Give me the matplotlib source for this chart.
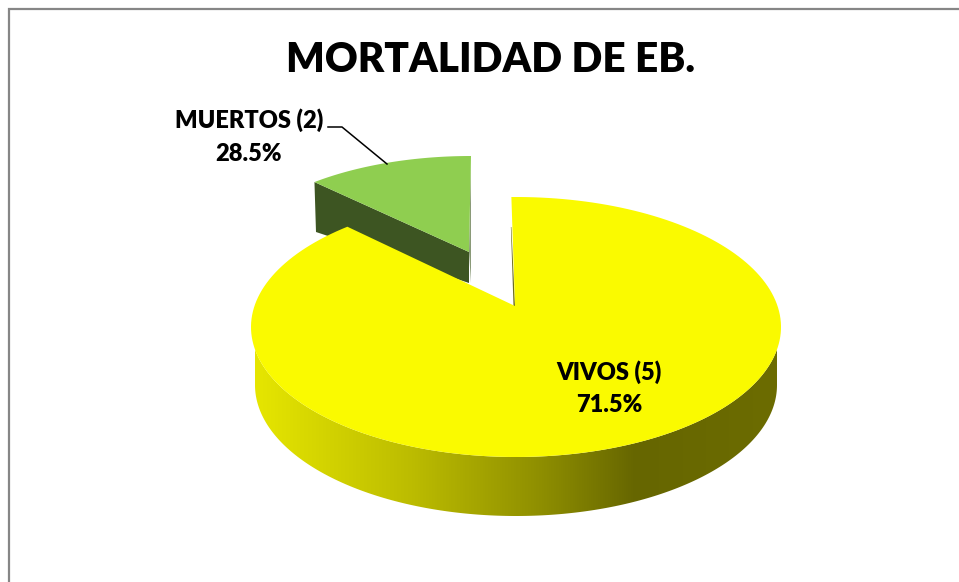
import matplotlib
matplotlib.use("Agg")
import matplotlib.pyplot as plt
from matplotlib.colors import LinearSegmentedColormap
from matplotlib.patches import Polygon, Rectangle
import numpy as np

title = "MORTALIDAD DE EB."
categories = ["VIVOS (5)", "MUERTOS (2)"]
pct_labels = ["71.5%", "28.5%"]
# share of the circle each slice really takes up in the picture
slice_shares = [89.3, 10.7]

plt.rcParams['font.family'] = ['Lato', 'DejaVu Sans']


def arc(cx, cy, rx, ry, a0, a1, n=200):
    t = np.radians(np.linspace(a0, a1, n))
    return np.column_stack([cx + rx*np.cos(t), cy - ry*np.sin(t)])


fig = plt.figure(figsize=(9.59, 5.82), dpi=100)
ax = fig.add_axes([0, 0, 1, 1])
ax.set_xlim(0, 959)
ax.set_ylim(582, 0)
ax.axis('off')

# chart frame, runs off the right and bottom of the image
ax.add_patch(Rectangle((8.5, 8.5), 1000, 1000, fc='white', ec='#868686', lw=1.6))

# angles go clockwise from 12 o'clock
start = 91
yellow_end = start - 360*slice_shares[0]/sum(slice_shares)

# --- green slice, pulled out and further back
g_cx, g_cy, g_rx, g_ry = 471, 270, 246, 114
g_apex = np.array([469, 252])
g_arc = arc(g_cx, g_cy, g_rx, g_ry, yellow_end + 360, 90)
g_drop = np.array([[316, 232], [469, 283]])
ax.add_patch(Polygon(np.vstack([g_arc[0], g_apex, g_drop[1], g_drop[0]]),
                     fc='#3d5522', ec='none', zorder=2))
ax.add_patch(Polygon(np.vstack([g_apex, g_arc[-1], g_apex + [2, 31]]),
                     fc='#8a9a78', ec='none', zorder=2))
ax.add_patch(Polygon(np.vstack([g_apex, g_arc]), fc='#8fce50', ec='none', zorder=3))

# --- yellow slice
cx, cy, rx, ry = 516, 327, 265, 130
b_cx, b_cy, b_rx, b_ry = 516, 385, 261, 131
apex = np.array([515, 306])

side = np.vstack([arc(cx, cy, rx, ry, 180, 360), arc(b_cx, b_cy, b_rx, b_ry, 360, 180)])
side_patch = Polygon(side, fc='none', ec='none', zorder=4)
ax.add_patch(side_patch)
shade = LinearSegmentedColormap.from_list('side', [
    (0.0, '#e6e600'), (0.30, '#bcbc00'), (0.55, '#8e8e00'),
    (0.73, '#666600'), (1.0, '#6c6c00')])
im = ax.imshow(np.linspace(0, 1, 256).reshape(1, -1), cmap=shade, aspect='auto',
               extent=(255, 777, 520, 320), zorder=4)
im.set_clip_path(side_patch)
ax.set_xlim(0, 959)
ax.set_ylim(582, 0)

y_arc = arc(cx, cy, rx, ry, start, yellow_end)
# thin cut face on the left of the yellow edge
ax.add_patch(Polygon(np.vstack([y_arc[0] + [0, 30], apex, apex + [-1.5, 0], y_arc[0] + [-0.5, 30]]),
                     fc='#6b6b20', ec='none', zorder=4))
ax.add_patch(Polygon(np.vstack([apex, y_arc]), fc='#fafa00', ec='none', zorder=5))

# --- text
ax.text(490, 60, title, ha='center', va='center', fontsize=29.2, fontweight='heavy',
        color='black', zorder=6)
for txt, x, y in [(categories[1], 249, 120), (pct_labels[1], 249, 154),
                  (categories[0], 609, 372), (pct_labels[0], 609, 405)]:
    ax.text(x, y, txt, ha='center', va='center', fontsize=17, fontweight='heavy', zorder=6)

# leader line
ax.plot([328, 342, 387], [127, 127, 164], color='black', lw=1.1, zorder=6)

fig.savefig('out.png', dpi=100)
